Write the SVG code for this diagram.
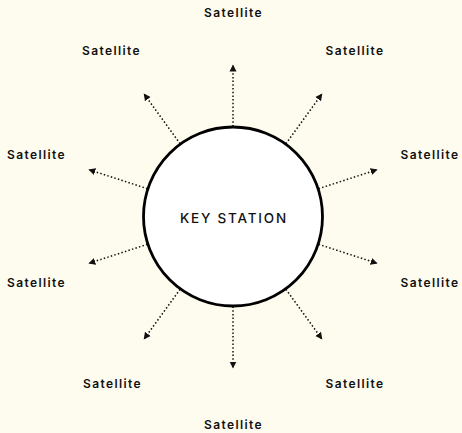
<svg xmlns="http://www.w3.org/2000/svg" width="462" height="433" viewBox="0 0 462 433">
<style>
.lbl{font-family:Inter,"Liberation Sans",sans-serif;font-size:12px;font-weight:600;letter-spacing:1.4px;fill:#111;text-anchor:middle}
.key{font-family:Inter,"Liberation Sans",sans-serif;font-size:13.5px;font-weight:500;letter-spacing:1.8px;fill:#111;text-anchor:middle}
.link{stroke:#111;stroke-width:1.5;stroke-dasharray:1.5 2.2;fill:none;marker-end:url(#ah)}
</style>
<defs>
<marker id="ah" markerUnits="userSpaceOnUse" markerWidth="8" markerHeight="8" refX="7" refY="3.5" orient="auto" viewBox="0 0 8 7">
<path d="M0,0 L7,3.5 L0,7 z" fill="#111"/>
</marker>
</defs>
<rect width="462" height="433" fill="#FEFCEE"/>
<g id="connectors">
<line class="link" x1="233" y1="126.5" x2="233" y2="64.5"/>
<line class="link" x1="180.1" y1="143.7" x2="143.7" y2="93.5"/>
<line class="link" x1="285.9" y1="143.7" x2="322.3" y2="93.5"/>
<line class="link" x1="147.4" y1="188.7" x2="88.4" y2="169.5"/>
<line class="link" x1="318.6" y1="188.7" x2="377.6" y2="169.5"/>
<line class="link" x1="147.4" y1="244.3" x2="88.4" y2="263.5"/>
<line class="link" x1="318.6" y1="244.3" x2="377.6" y2="263.5"/>
<line class="link" x1="180.1" y1="289.3" x2="143.7" y2="339.5"/>
<line class="link" x1="285.9" y1="289.3" x2="322.3" y2="339.5"/>
<line class="link" x1="233" y1="306.5" x2="233" y2="368.5"/>
</g>
<g id="key-station">
<circle cx="233" cy="216.5" r="89.5" fill="#FFFFFF" stroke="#000" stroke-width="2.8"/>
<text class="key" x="233.9" y="223.3">KEY STATION</text>
</g>
<g id="sat-top"><text class="lbl" x="233.5" y="17">Satellite</text></g>
<g id="sat-upper-left"><text class="lbl" x="111.5" y="54.5">Satellite</text></g>
<g id="sat-upper-right"><text class="lbl" x="355" y="54.5">Satellite</text></g>
<g id="sat-left"><text class="lbl" x="36.5" y="158.5">Satellite</text></g>
<g id="sat-right"><text class="lbl" x="430" y="158.5">Satellite</text></g>
<g id="sat-lower-left-side"><text class="lbl" x="36.5" y="286.5">Satellite</text></g>
<g id="sat-lower-right-side"><text class="lbl" x="430" y="286.5">Satellite</text></g>
<g id="sat-lower-left"><text class="lbl" x="112.5" y="387.5">Satellite</text></g>
<g id="sat-lower-right"><text class="lbl" x="355" y="387.5">Satellite</text></g>
<g id="sat-bottom"><text class="lbl" x="233.5" y="428.5">Satellite</text></g>
</svg>
